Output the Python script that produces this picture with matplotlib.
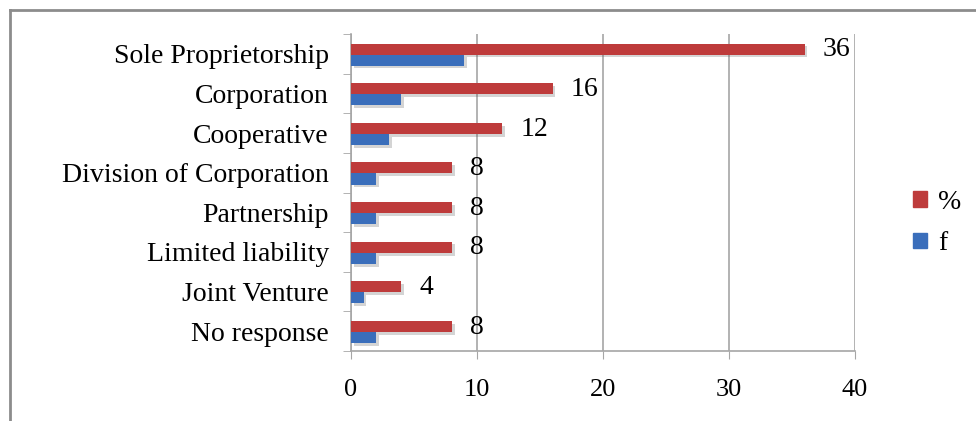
import numpy as np
import matplotlib
matplotlib.use("Agg")
import matplotlib.pyplot as plt
import matplotlib.patheffects as pe
from matplotlib.lines import Line2D

# data, top to bottom as shown in the chart
categories = ["Sole Proprietorship", "Corporation", "Cooperative",
              "Division of Corporation", "Partnership", "Limited liability",
              "Joint Venture", "No response"]
pct = [36, 16, 12, 8, 8, 8, 4, 8]
freq = [9, 4, 3, 2, 2, 2, 1, 2]
xticks = [0, 10, 20, 30, 40]

red = "#BE3B3B"
blue = "#3A6EBB"
grey = "#A6A6A6"

plt.rcParams['font.family'] = ['Liberation Serif', 'DejaVu Serif']

fig = plt.figure(figsize=(9.76, 4.21), dpi=100)
ax = fig.add_axes([351/976, 1 - 351/421, 504/976, 317/421])

y = np.arange(len(categories))
h = 0.28
shadow = [pe.SimplePatchShadow(offset=(2, -2), alpha=0.25, shadow_rgbFace="#555555"), pe.Normal()]
b1 = ax.barh(y - h/2 + 0.02, pct, height=h, color=red, label="%", zorder=3)
b2 = ax.barh(y + h/2 + 0.02, freq, height=h, color=blue, label="f", zorder=3)
for b in list(b1) + list(b2):
    b.set_path_effects(shadow)

# value labels on the % bars
for yi, v in zip(y, pct):
    ax.annotate(str(v), (v, yi - h/2 + 0.04), xytext=(13, 0), textcoords="offset points",
                va="center", ha="left", fontsize=20, color="black")

ax.set_xlim(0, 40)
ax.set_ylim(len(categories) - 0.5, -0.5)
ax.set_xticks(xticks)
ax.set_xticklabels([str(t) for t in xticks], fontsize=19)
ax.tick_params(axis="x", length=6, color=grey, pad=14)
ax.set_yticks(y)
ax.set_yticklabels(categories, fontsize=20)
ax.tick_params(axis="y", which="major", length=0, pad=16)
ax.set_yticks(np.arange(-0.5, len(categories)), minor=True)
ax.tick_params(axis="y", which="minor", length=6, color=grey)
ax.xaxis.grid(True, color=grey, linewidth=1.2, zorder=0)
ax.set_axisbelow(True)

for s in ["top", "right"]:
    ax.spines[s].set_visible(False)
for s in ["left", "bottom"]:
    ax.spines[s].set_color(grey)
    ax.spines[s].set_linewidth(1.2)

handles = [plt.Rectangle((0, 0), 1, 1, color=red), plt.Rectangle((0, 0), 1, 1, color=blue)]
fig.legend(handles, ["%", "f"], loc="center left", bbox_to_anchor=(913/976, 1 - 223/421),
           frameon=False, fontsize=20, handlelength=0.5, handleheight=0.5,
           handletextpad=0.4, labelspacing=0.6, borderaxespad=0, borderpad=0)

# outer frame (left and top edges)
fig.add_artist(Line2D([10/976, 10/976], [0, 1 - 10/421], color="#8C8C8C", linewidth=2,
                      transform=fig.transFigure))
fig.add_artist(Line2D([10/976, 1], [1 - 10/421, 1 - 10/421], color="#8C8C8C", linewidth=2,
                      transform=fig.transFigure))

fig.savefig("out.png", dpi=100)
